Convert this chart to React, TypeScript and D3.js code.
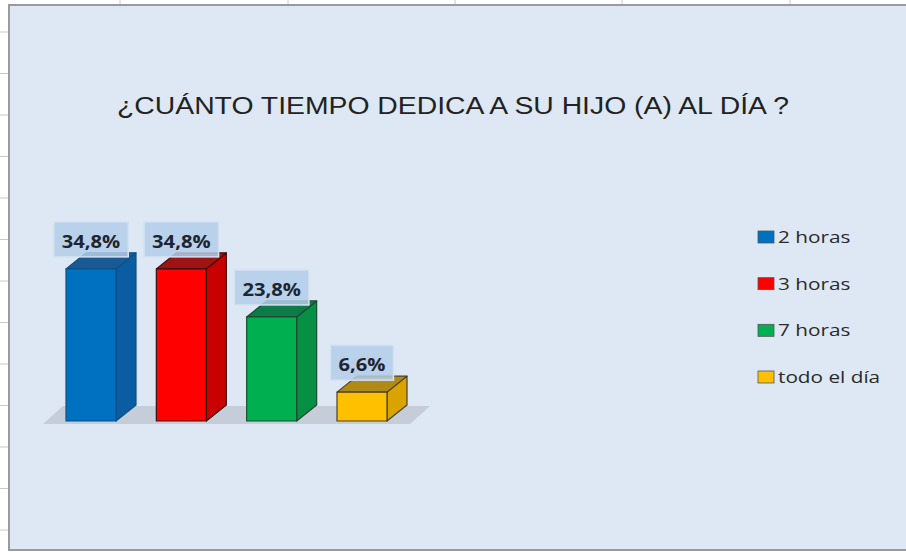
import React, { useEffect, useRef } from 'react';
import * as d3 from 'd3';

const categories = ['2 horas', '3 horas', '7 horas', 'todo el día'];
const values = [34.8, 34.8, 23.8, 6.6];
const labels = ['34,8%', '34,8%', '23,8%', '6,6%'];
const title = '¿CUÁNTO TIEMPO DEDICA A SU HIJO (A) AL DÍA ?';

// front, side, top, edge
const palette = [
  ['#0070c0', '#0b5da3', '#1a5a94', '#0d4f86'],
  ['#ff0000', '#c80000', '#9e1414', '#3a1010'],
  ['#00b050', '#078f43', '#0e7a48', '#1d4a33'],
  ['#ffc000', '#d9a300', '#b08a12', '#4a4020'],
];

const W = 906;
const H = 552;
const stretch = 1.22; // the picture is a bit wider than tall

export default function App() {
  const ref = useRef<SVGSVGElement>(null);

  useEffect(() => {
    const svg = d3.select(ref.current);
    svg.selectAll('*').remove();

    // spreadsheet behind the chart
    svg.append('rect').attr('width', W).attr('height', H).attr('fill', '#ffffff');
    [120, 288, 455, 622, 790].forEach(x => {
      svg.append('line').attr('x1', x).attr('x2', x).attr('y1', 0).attr('y2', 6)
        .attr('stroke', '#c8c8c8');
    });
    d3.range(32, H, 41.5).forEach(y => {
      svg.append('line').attr('x1', 0).attr('x2', 8).attr('y1', y).attr('y2', y)
        .attr('stroke', '#c8c8c8');
    });

    // chart area
    svg.append('rect').attr('x', 9).attr('y', 5).attr('width', W).attr('height', 545)
      .attr('fill', '#dee8f4').attr('stroke', '#9a9a9a').attr('stroke-width', 2);

    svg.append('text')
      .attr('x', 453).attr('y', 114)
      .attr('text-anchor', 'middle')
      .attr('font-family', '"Liberation Sans", Arial, sans-serif')
      .attr('font-size', 23)
      .attr('fill', '#222')
      .attr('textLength', 672)
      .attr('lengthAdjust', 'spacingAndGlyphs')
      .text(title);

    const x = d3.scaleBand<string>()
      .domain(categories)
      .range([43, 410])
      .paddingInner(0.4465)
      .paddingOuter(0.2546);
    const y = d3.scaleLinear().domain([0, 35]).range([421, 268]);
    const dx = 20;
    const dy = 16;
    const base = y(0);

    // floor
    svg.append('polygon')
      .attr('points', [[43, base + 3], [410, base + 3], [410 + dx, base + 3 - dy - 2], [43 + dx, base + 3 - dy - 2]].join(' '))
      .attr('fill', '#c5ced8');

    const g = svg.append('g');
    categories.forEach((c, i) => {
      const x0 = x(c)!;
      const x1 = x0 + x.bandwidth();
      const yt = y(values[i]);
      const [front, side, top, edge] = palette[i];
      const bar = g.append('g').attr('stroke', edge).attr('stroke-width', 1.2).attr('stroke-linejoin', 'round');
      bar.append('polygon')
        .attr('points', [[x1, yt], [x1 + dx, yt - dy], [x1 + dx, base - dy], [x1, base]].join(' '))
        .attr('fill', side);
      bar.append('polygon')
        .attr('points', [[x0, yt], [x0 + dx, yt - dy], [x1 + dx, yt - dy], [x1, yt]].join(' '))
        .attr('fill', top);
      bar.append('rect')
        .attr('x', x0).attr('y', yt).attr('width', x.bandwidth()).attr('height', base - yt)
        .attr('fill', front);
    });

    // data labels
    categories.forEach((c, i) => {
      const cx = x(c)! + x.bandwidth() / 2;
      const yt = y(values[i]);
      const lg = svg.append('g');
      const box = lg.append('rect');
      const t = lg.append('text')
        .attr('x', cx).attr('y', yt - 21)
        .attr('text-anchor', 'middle')
        .attr('font-family', '"Open Sans", sans-serif')
        .attr('font-weight', 700)
        .attr('font-size', 18)
        .attr('fill', '#1e2530')
        .text(labels[i]);
      const tw = (t.node() as SVGTextElement).getComputedTextLength() * 1.12;
      t.attr('textLength', tw).attr('lengthAdjust', 'spacingAndGlyphs');
      const w = tw + 16;
      box.attr('x', cx - w / 2).attr('y', yt - 47).attr('width', w).attr('height', 35)
        .attr('fill', '#b3cde8').attr('fill-opacity', 0.85)
        .attr('stroke', '#d3e2f1').attr('stroke-width', 1.5);
    });

    // legend
    const ly = d3.scalePoint<string>().domain(categories).range([237, 377]);
    categories.forEach((c, i) => {
      const yy = ly(c)!;
      svg.append('rect')
        .attr('x', 758).attr('y', yy - 6).attr('width', 16).attr('height', 12)
        .attr('fill', palette[i][0]).attr('stroke', '#555').attr('stroke-width', 0.8);
      const t = svg.append('text')
        .attr('x', 778).attr('y', yy + 6)
        .attr('font-family', '"Open Sans", sans-serif')
        .attr('font-size', 17)
        .attr('fill', '#2a2a2a')
        .text(c);
      const tw = (t.node() as SVGTextElement).getComputedTextLength() * stretch;
      t.attr('textLength', tw).attr('lengthAdjust', 'spacingAndGlyphs');
    });
  }, []);

  return (
    <svg ref={ref} width={W} height={H}
      style={{ position: 'absolute', left: 0, top: 0, display: 'block' }} />
  );
}
